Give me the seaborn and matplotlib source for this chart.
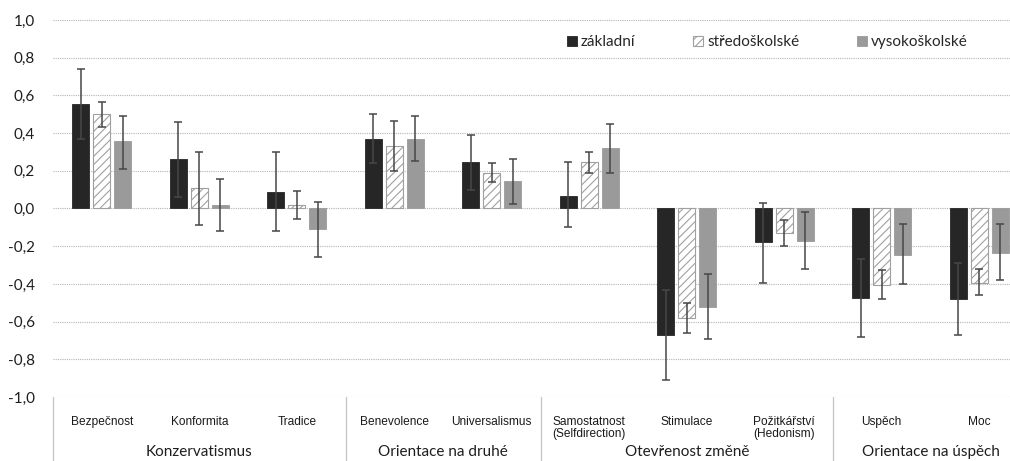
import matplotlib
matplotlib.use("Agg")
import matplotlib.pyplot as plt
from matplotlib.patches import Patch
import matplotlib.transforms as mtransforms
import numpy as np
import pandas as pd
import seaborn as sns

# ---------------- data ----------------
categories = ["Bezpečnost", "Konformita", "Tradice", "Benevolence", "Universalismus",
              "Samostatnost\n(Selfdirection)", "Stimulace", "Požitkářství\n(Hedonism)",
              "Uspěch", "Moc"]
groups = ["Konzervatismus", "Orientace na druhé", "Otevřenost změně", "Orientace na úspěch"]
group_sizes = [3, 2, 3, 2]
series = ["základní", "středoškolské", "vysokoškolské"]

zakladni = [0.555, 0.26, 0.09, 0.37, 0.245, 0.065, -0.67, -0.18, -0.475, -0.48]
zakladni_low = [0.37, 0.06, -0.12, 0.24, 0.10, -0.10, -0.91, -0.395, -0.68, -0.67]
zakladni_high = [0.74, 0.46, 0.30, 0.50, 0.39, 0.245, -0.43, 0.03, -0.27, -0.29]

stredni = [0.50, 0.11, 0.02, 0.33, 0.19, 0.245, -0.58, -0.13, -0.405, -0.395]
stredni_low = [0.43, -0.09, -0.055, 0.20, 0.14, 0.19, -0.66, -0.20, -0.48, -0.46]
stredni_high = [0.565, 0.30, 0.095, 0.465, 0.24, 0.30, -0.50, -0.06, -0.325, -0.32]

vysoke = [0.36, 0.02, -0.11, 0.37, 0.145, 0.32, -0.52, -0.175, -0.245, -0.235]
vysoke_low = [0.21, -0.12, -0.255, 0.25, 0.025, 0.19, -0.69, -0.32, -0.40, -0.38]
vysoke_high = [0.49, 0.155, 0.035, 0.49, 0.26, 0.45, -0.35, -0.02, -0.08, -0.08]

y_ticks = [-1.0, -0.8, -0.6, -0.4, -0.2, 0.0, 0.2, 0.4, 0.6, 0.8, 1.0]
y_ticklabels = ["-1,0", "-0,8", "-0,6", "-0,4", "-0,2", "0,0", "0,2", "0,4", "0,6", "0,8", "1,0"]

values = [zakladni, stredni, vysoke]
lows = [zakladni_low, stredni_low, vysoke_low]
highs = [zakladni_high, stredni_high, vysoke_high]

df = pd.DataFrame({
    "kategorie": [c for _ in series for c in categories],
    "vzdelani": [s for s in series for _ in categories],
    "hodnota": [v for vals in values for v in vals],
})

# ---------------- style ----------------
sns.set_theme(style="white")
plt.rcParams["font.family"] = ["Lato", "DejaVu Sans"]
plt.rcParams["hatch.linewidth"] = 0.8

fig = plt.figure(figsize=(10.10, 4.61), dpi=100)
ax = fig.add_axes([53 / 1010, 64 / 461, 975 / 1010, 377 / 461])

sns.barplot(data=df, x="kategorie", y="hodnota", hue="vzdelani", order=categories,
            hue_order=series, width=0.646, gap=0.2, errorbar=None, ax=ax, legend=False)

styles = [
    dict(facecolor="#262626", edgecolor="#262626", hatch=None, linewidth=0.6),
    dict(facecolor="white", edgecolor="#a0a0a0", hatch="////", linewidth=0.8),
    dict(facecolor="#9a9a9a", edgecolor="#9a9a9a", hatch=None, linewidth=0.6),
]

for cont, st, vals, lo, hi in zip(ax.containers, styles, values, lows, highs):
    xs = []
    for p in cont.patches:
        p.set_facecolor(st["facecolor"])
        p.set_edgecolor(st["edgecolor"])
        p.set_linewidth(st["linewidth"])
        if st["hatch"]:
            p.set_hatch(st["hatch"])
        xs.append(p.get_x() + p.get_width() / 2)
    v = np.array(vals)
    yerr = [v - np.array(lo), np.array(hi) - v]
    ax.errorbar(xs, v, yerr=yerr, fmt="none", ecolor="#474747", elinewidth=1.1,
                capsize=2.9, capthick=1.1, zorder=5)

ax.set_ylim(-1.0, 1.0)
ax.set_xlim(-0.5, len(categories) - 0.5)
ax.set_yticks(y_ticks)
ax.set_yticklabels(y_ticklabels, fontsize=11, color="#1e1e1e")
ax.tick_params(axis="y", length=0, pad=13)
ax.tick_params(axis="x", length=0, pad=14)
ax.set_xticks(range(len(categories)))
ax.set_xticklabels(categories, fontsize=8.6, color="#1a1a1a",
                   family=["Liberation Sans", "DejaVu Sans"], linespacing=1.0)
ax.set_xlabel("")
ax.set_ylabel("")
for s in ax.spines.values():
    s.set_visible(False)

ax.yaxis.grid(True, color="#b5b5b5", linestyle=(0, (1, 1)), linewidth=0.8)
ax.xaxis.grid(False)
ax.set_axisbelow(True)

# multi-level category table below axis
trans = mtransforms.blended_transform_factory(ax.transData, ax.transAxes)
bounds = np.concatenate([[0], np.cumsum(group_sizes)]) - 0.5
for b in bounds:
    ax.plot([b, b], [0, -0.2], transform=trans, color="#c4c4c4", linewidth=0.9,
            clip_on=False)
for g, a, b in zip(groups, bounds[:-1], bounds[1:]):
    ax.text((a + b) / 2, -0.147, g, transform=trans, ha="center", va="center",
            fontsize=11, color="#1e1e1e")

# legend
handles = [Patch(facecolor=st["facecolor"], edgecolor=st["edgecolor"],
                 hatch=st["hatch"], linewidth=st["linewidth"]) for st in styles]
fig.legend(handles, series, loc="center left", bbox_to_anchor=(567 / 1010, 1 - 42 / 461),
           ncol=3, frameon=False, fontsize=11, handlelength=0.65, handleheight=0.65,
           handletextpad=0.25, columnspacing=3.8, borderpad=0, borderaxespad=0)

fig.savefig("out.png", dpi=100)
